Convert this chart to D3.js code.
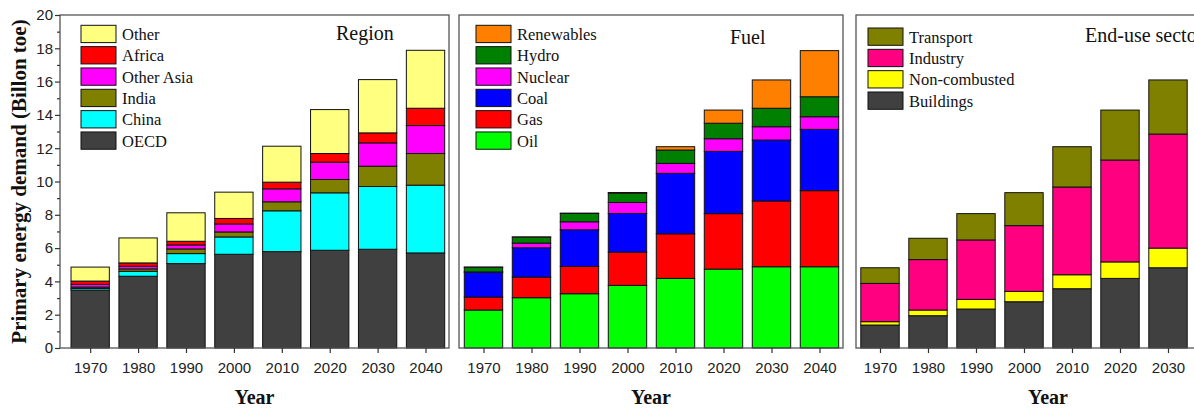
<!DOCTYPE html>
<html>
<head>
<meta charset="utf-8">
<script src="https://cdn.jsdelivr.net/npm/d3@7"></script>
<style>
  html, body { margin: 0; padding: 0; background: #fff; }
  svg { display: block; }
</style>
</head>
<body>
<svg id="chart" width="1194" height="409"></svg>
<script>
// Primary energy demand, billion toe, stacked by region, fuel and end-use sector
const years = [1970, 1980, 1990, 2000, 2010, 2020, 2030, 2040];
const sectorYears = [1970, 1980, 1990, 2000, 2010, 2020, 2030];
const yTicks = [0, 2, 4, 6, 8, 10, 12, 14, 16, 18, 20];

// Region (stack order bottom to top)
const regionKeys = ["OECD", "China", "India", "Other Asia", "Africa", "Other"];
const oecd      = [3.48, 4.31, 5.07, 5.63, 5.79, 5.87, 5.93, 5.71];
const china     = [0.10, 0.30, 0.60, 1.04, 2.45, 3.45, 3.77, 4.07];
const india     = [0.08, 0.14, 0.28, 0.30, 0.54, 0.80, 1.22, 1.90];
const otherAsia = [0.16, 0.16, 0.24, 0.48, 0.78, 1.04, 1.40, 1.68];
const africa    = [0.20, 0.20, 0.22, 0.33, 0.40, 0.52, 0.60, 1.04];
const otherReg  = [0.84, 1.50, 1.71, 1.58, 2.16, 2.64, 3.20, 3.48];
const regionColors = ["#404040", "#00ffff", "#808000", "#ff00ff", "#ff0000", "#ffff80"];

// Fuel
const fuelKeys = ["Oil", "Gas", "Coal", "Nuclear", "Hydro", "Renewables"];
const oil        = [2.28, 3.02, 3.26, 3.76, 4.18, 4.74, 4.88, 4.88];
const gas        = [0.78, 1.24, 1.64, 2.00, 2.68, 3.33, 3.95, 4.57];
const coal       = [1.49, 1.76, 2.20, 2.32, 3.63, 3.74, 3.66, 3.68];
const nuclear    = [0.02, 0.28, 0.48, 0.66, 0.60, 0.76, 0.80, 0.76];
const hydro      = [0.28, 0.36, 0.50, 0.56, 0.80, 0.93, 1.11, 1.20];
const renewables = [0.01, 0.01, 0.02, 0.04, 0.20, 0.79, 1.70, 2.77];
const fuelColors = ["#00ff00", "#ff0000", "#0000ff", "#ff00ff", "#008000", "#ff8000"];

// End-use sector
const sectorKeys = ["Buildings", "Non-combusted", "Industry", "Transport"];
const buildings     = [1.38, 1.94, 2.34, 2.78, 3.56, 4.18, 4.82];
const nonCombusted  = [0.20, 0.34, 0.58, 0.62, 0.84, 0.99, 1.18];
const industry      = [2.30, 3.03, 3.57, 3.95, 5.27, 6.12, 6.85];
const transport     = [0.94, 1.28, 1.58, 1.98, 2.42, 3.00, 3.25];
const sectorColors = ["#404040", "#ffff00", "#ff0080", "#808000"];

const svg = d3.select("#chart");
const plotTop = 15, plotBottom = 348;
const y = d3.scaleLinear().domain([0, 20]).range([plotBottom, plotTop]);

const sansFont = "'Liberation Sans', Arial, sans-serif";
const serifFont = "'Liberation Serif', 'Times New Roman', serif";

function drawPanel(cfg) {
  const g = svg.append("g");
  const x = d3.scaleLinear().domain(cfg.domain).range([cfg.x0, cfg.x1]);

  const rows = cfg.years.map((yr, i) => {
    const r = { year: yr };
    cfg.keys.forEach((k, j) => { r[k] = cfg.values[j][i]; });
    return r;
  });
  const layers = d3.stack().keys(cfg.keys)(rows);
  const bw = (x(1975) - x(1965)) * 0.8;

  layers.forEach((layer, k) => {
    g.append("g").selectAll("rect")
      .data(layer)
      .join("rect")
      .attr("x", d => x(d.data.year) - bw / 2)
      .attr("y", d => y(d[1]))
      .attr("width", bw)
      .attr("height", d => y(d[0]) - y(d[1]))
      .attr("fill", cfg.colors[k])
      .attr("stroke", "#111")
      .attr("stroke-width", 1);
  });

  // frame
  g.append("rect")
    .attr("x", cfg.x0).attr("y", plotTop)
    .attr("width", cfg.x1 - cfg.x0).attr("height", plotBottom - plotTop)
    .attr("fill", "none").attr("stroke", "#555").attr("stroke-width", 1.3);

  // bottom axis
  const xa = g.append("g")
    .attr("transform", `translate(0,${plotBottom})`)
    .call(d3.axisBottom(x).tickValues(cfg.years).tickFormat(d3.format("d")).tickSize(5).tickPadding(9));
  xa.select(".domain").remove();
  xa.selectAll("line").attr("stroke", "#333").attr("stroke-width", 1.2);
  xa.selectAll("text").attr("font-family", sansFont).attr("font-size", 15).attr("fill", "#222");

  if (cfg.yAxis) {
    const ya = g.append("g")
      .attr("transform", `translate(${cfg.x0},0)`)
      .call(d3.axisLeft(y).tickValues(yTicks).tickFormat(d3.format("d")).tickSize(5).tickPadding(2));
    ya.select(".domain").remove();
    ya.selectAll("line").attr("stroke", "#333").attr("stroke-width", 1.2);
    ya.selectAll("text").attr("font-family", sansFont).attr("font-size", 15).attr("fill", "#222");

    const minor = g.append("g")
      .attr("transform", `translate(${cfg.x0},0)`)
      .call(d3.axisLeft(y).tickValues(d3.range(1, 20, 2)).tickFormat("").tickSize(3));
    minor.select(".domain").remove();
    minor.selectAll("line").attr("stroke", "#333").attr("stroke-width", 1.2);
  }

  // title
  g.append("text")
    .attr("x", cfg.titleX).attr("y", cfg.titleY)
    .attr("font-family", serifFont).attr("font-size", 20).attr("fill", "#111")
    .text(cfg.title);

  // legend (top of stack first)
  const order = cfg.keys.map((k, i) => i).reverse();
  const lg = g.append("g");
  order.forEach((idx, row) => {
    const ly = cfg.legendY + row * 21.33;
    lg.append("rect")
      .attr("x", cfg.legendX).attr("y", ly)
      .attr("width", 35).attr("height", 17.3)
      .attr("fill", cfg.colors[idx]).attr("stroke", "#111").attr("stroke-width", 1);
    lg.append("text")
      .attr("x", cfg.legendX + 41).attr("y", ly + 14.6)
      .attr("font-family", serifFont).attr("font-size", 16.5).attr("fill", "#111")
      .text(cfg.keys[idx]);
  });

  // x title
  g.append("text")
    .attr("x", (cfg.x0 + cfg.x1) / 2).attr("y", 404)
    .attr("text-anchor", "middle")
    .attr("font-family", serifFont).attr("font-weight", "bold").attr("font-size", 20).attr("fill", "#111")
    .text("Year");
}

drawPanel({
  x0: 60, x1: 449, domain: [1963.7, 2044.9], years: years,
  keys: regionKeys, values: [oecd, china, india, otherAsia, africa, otherReg], colors: regionColors,
  title: "Region", titleX: 336, titleY: 40, legendX: 81, legendY: 25.3, yAxis: true
});

drawPanel({
  x0: 459, x1: 843, domain: [1964.9, 2044.9], years: years,
  keys: fuelKeys, values: [oil, gas, coal, nuclear, hydro, renewables], colors: fuelColors,
  title: "Fuel", titleX: 730, titleY: 44, legendX: 476, legendY: 25.3, yAxis: false
});

drawPanel({
  x0: 856, x1: 1240, domain: [1965, 2045], years: sectorYears,
  keys: sectorKeys, values: [buildings, nonCombusted, industry, transport], colors: sectorColors,
  title: "End-use sector", titleX: 1085, titleY: 42, legendX: 868, legendY: 28, yAxis: false
});

// shared y title
svg.append("text")
  .attr("transform", `translate(26,${(plotTop + plotBottom) / 2}) rotate(-90)`)
  .attr("text-anchor", "middle")
  .attr("font-family", serifFont).attr("font-weight", "bold").attr("font-size", 21).attr("fill", "#111")
  .text("Primary energy demand (Billon toe)");
</script>
</body>
</html>
